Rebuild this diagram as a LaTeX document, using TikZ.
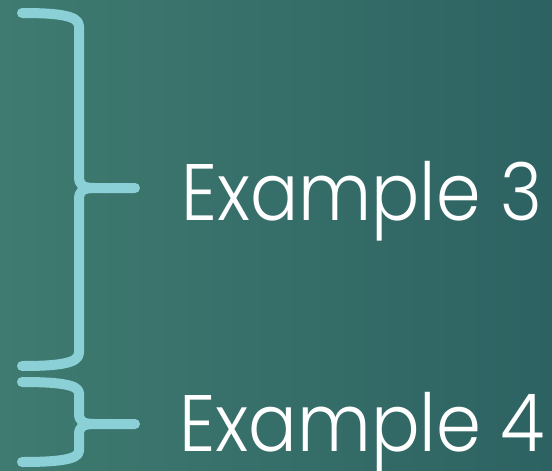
\documentclass[tikz,border=0pt]{standalone}
\usepackage{fontspec}
\usepackage{graphicx}
\newfontfamily\popfont{Poppins Light}
\definecolor{bgleft}{HTML}{3F7B70}
\definecolor{bgright}{HTML}{2D6262}
\definecolor{bracecol}{HTML}{8BD0D6}
\tikzset{
  bracestroke/.style={draw=bracecol, line width=10pt, line cap=round, line join=round},
  label/.style={text=white, font=\popfont\fontsize{80}{80}\selectfont, inner sep=0pt, anchor=base west}
}
\begin{document}
\begin{tikzpicture}[x=1pt,y=-1pt]
\useasboundingbox (0,0) rectangle (552,471);
\shade[left color=bgleft, right color=bgright] (0,0) rectangle (552,471);
% big brace
\coordinate (b1top) at (22,13);
\coordinate (b1tip) at (135,188);
\coordinate (b1bot) at (22,366);
\draw[bracestroke] (b1top) .. controls (55,13) and (79,15) .. (79,26) -- (79,176)
  .. controls (79,185) and (82,188) .. (95,188) -- (b1tip);
\draw[bracestroke] (95,188) .. controls (82,188) and (79,191) .. (79,200) -- (79,353)
  .. controls (79,364) and (55,366) .. (b1bot);
% small brace
\coordinate (b2top) at (22,382);
\coordinate (b2tip) at (135,424);
\coordinate (b2bot) at (22,462);
\draw[bracestroke] (b2top) .. controls (55,382) and (79,384) .. (79,393) -- (79,413)
  .. controls (79,421) and (82,424) .. (95,424) -- (b2tip);
\draw[bracestroke] (95,424) .. controls (82,424) and (79,427) .. (79,435) -- (79,451)
  .. controls (79,460) and (55,462) .. (b2bot);
\node[label] (ex3) at (181,220) {\resizebox{361pt}{\height}{Example 3}};
\node[label] (ex4) at (179,451) {\resizebox{366pt}{\height}{Example 4}};
\end{tikzpicture}
\end{document}
